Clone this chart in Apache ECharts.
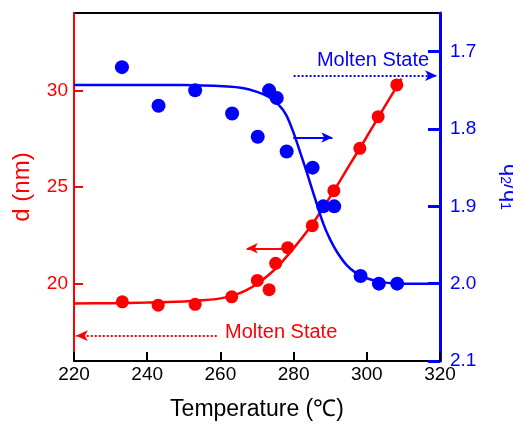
<!DOCTYPE html>
<html><head><meta charset="utf-8">
<script src="https://cdn.jsdelivr.net/npm/echarts@6/dist/echarts.min.js"></script>
<style>html,body{margin:0;padding:0;background:#fff}#c{width:513px;height:423px}</style>
</head><body><div id="c"></div>
<script>
// measured points
const tempD = [233.2, 243.0, 253.1, 263.1, 270.1, 273.3, 275.1, 278.4, 285.1, 291.0, 298.1, 303.1, 308.2];
const dVals = [19.06, 18.89, 18.93, 19.32, 20.17, 19.69, 21.05, 21.86, 23.0, 24.81, 27.0, 28.64, 30.28];
const tempQ = [233.1, 243.1, 253.1, 263.2, 270.2, 273.3, 275.4, 278.1, 285.2, 288.1, 291.1, 298.3, 303.3, 308.3];
const qVals = [1.72, 1.77, 1.75, 1.78, 1.81, 1.75, 1.76, 1.829, 1.85, 1.90, 1.90, 1.99, 2.0, 2.0];
// fitted curves
const dFitT = [220, 230, 240, 250, 256, 260, 264, 267, 270, 273, 276, 279, 282, 285, 288, 291, 295, 300, 305, 309.5];
const dFitV = [18.98, 18.99, 19.02, 19.08, 19.15, 19.24, 19.42, 19.65, 19.98, 20.42, 20.95, 21.6, 22.3, 23.05, 23.9, 24.8, 26.05, 27.6, 29.2, 30.6];
const qFitT = [220, 250, 262, 266, 270, 273, 276, 278, 280, 282, 284, 286, 288, 290, 292, 294.5, 297, 300, 304, 310, 320];
const qFitV = [1.743, 1.743, 1.745, 1.747, 1.752, 1.758, 1.769, 1.782, 1.805, 1.833, 1.862, 1.892, 1.921, 1.943, 1.960, 1.976, 1.986, 1.993, 1.998, 2.0, 2.0];
// ticks
const xTicks = [220, 240, 260, 280, 300, 320];
const dTicks = [20, 25, 30];
const qTicks = [1.7, 1.8, 1.9, 2.0, 2.1];
// annotations
const blueArrow = [[279.9, 1.811], [290.6, 1.811]];
const redArrow = [[278.6, 21.83], [267.2, 21.83]];
const blueMolten = [[280, 1.731], [319.2, 1.731]];
const redMolten = [[259, 17.31], [220.5, 17.31]];
const blueMoltenLabel = [301.7, 1.711];
const redMoltenLabel = [276.6, 17.45];

const RED = '#ff0000', BLUE = '#0000ff';
const FONT = '"Liberation Sans", Arial, sans-serif';
const chart = echarts.init(document.getElementById('c'));
const zip = (a, b) => a.map((v, i) => [v, b[i]]);
const arrowLine = (pts, color, type, size) => ({
  silent: true, symbol: ['none', 'arrow'], symbolSize: size,
  label: {show: false},
  lineStyle: {color: color, type: type, width: 2, opacity: 1},
  emphasis: {disabled: true},
  data: [[{coord: pts[0]}, {coord: pts[1]}]]
});
chart.setOption({
  animation: false,
  textStyle: {fontFamily: FONT},
  grid: {left: 74, right: 73, top: 13, bottom: 62, show: true, borderColor: '#000', borderWidth: 2,
    containLabel: false, outerBoundsMode: 'none'},
  xAxis: {
    type: 'value', min: 220, max: 320, interval: 20,
    name: 'Temperature (℃)', nameLocation: 'middle', nameGap: 37,
    nameTextStyle: {color: '#000', fontSize: 23, fontFamily: FONT},
    axisLine: {lineStyle: {color: '#000', width: 2}},
    axisTick: {inside: true, length: 9, lineStyle: {color: '#000', width: 2}},
    axisLabel: {color: '#000', fontSize: 19, margin: 4, fontFamily: FONT},
    splitLine: {show: false}
  },
  yAxis: [{
    type: 'value', min: 16, max: 34, position: 'left',
    name: 'd (nm)', nameLocation: 'middle', nameGap: 40,
    nameTextStyle: {color: RED, fontSize: 24, fontFamily: FONT},
    axisLine: {show: true, lineStyle: {color: RED, width: 2}},
    axisTick: {inside: true, length: 9, customValues: dTicks, lineStyle: {color: RED, width: 2}},
    axisLabel: {color: RED, fontSize: 19, margin: 6, customValues: dTicks, fontFamily: FONT},
    splitLine: {show: false}
  }, {
    type: 'value', min: 1.65, max: 2.1, inverse: true, position: 'right',
    name: '{a|q}{s|2}{a|/q}{s|1}', nameLocation: 'middle', nameGap: 58, nameRotate: -90,
    nameTextStyle: {color: BLUE, fontFamily: FONT, rich: {
      a: {fontSize: 22, color: BLUE, fontFamily: FONT},
      s: {fontSize: 14, color: BLUE, fontFamily: FONT, verticalAlign: 'bottom', padding: [10, 0, 0, 0]}
    }},
    axisLine: {show: true, lineStyle: {color: BLUE, width: 3}},
    axisTick: {inside: true, length: 12, customValues: qTicks, lineStyle: {color: BLUE, width: 3}},
    axisLabel: {color: BLUE, fontSize: 19, margin: 10, customValues: qTicks, fontFamily: FONT,
      formatter: v => v.toFixed(1)},
    splitLine: {show: false}
  }],
  series: [
    {type: 'line', yAxisIndex: 0, data: zip(dFitT, dFitV), smooth: 0.3, showSymbol: false,
      lineStyle: {color: RED, width: 2.5}, z: 2,
      markLine: arrowLine(redArrow, RED, 'solid', [8, 11])},
    {type: 'line', yAxisIndex: 1, data: zip(qFitT, qFitV), smooth: 0.3, showSymbol: false,
      lineStyle: {color: BLUE, width: 2.5}, z: 2,
      markLine: arrowLine(blueArrow, BLUE, 'solid', [8, 11])},
    {type: 'scatter', yAxisIndex: 0, data: zip(tempD, dVals), symbolSize: 13,
      itemStyle: {color: RED, opacity: 1}, z: 3},
    {type: 'scatter', yAxisIndex: 1, data: zip(tempQ, qVals), symbolSize: 14,
      itemStyle: {color: BLUE, opacity: 1}, z: 3},
    {type: 'scatter', yAxisIndex: 1, data: [blueMoltenLabel], symbolSize: 1,
      itemStyle: {color: 'rgba(0,0,0,0)', opacity: 1},
      label: {show: true, position: 'inside', formatter: 'Molten State', color: BLUE, fontSize: 20, fontFamily: FONT},
      markLine: arrowLine(blueMolten, BLUE, 'dotted', [8, 12])},
    {type: 'scatter', yAxisIndex: 0, data: [redMoltenLabel], symbolSize: 1,
      itemStyle: {color: 'rgba(0,0,0,0)', opacity: 1},
      label: {show: true, position: 'inside', formatter: 'Molten State', color: RED, fontSize: 20, fontFamily: FONT},
      markLine: arrowLine(redMolten, RED, 'dotted', [8, 12])}
  ]
});
</script></body></html>
